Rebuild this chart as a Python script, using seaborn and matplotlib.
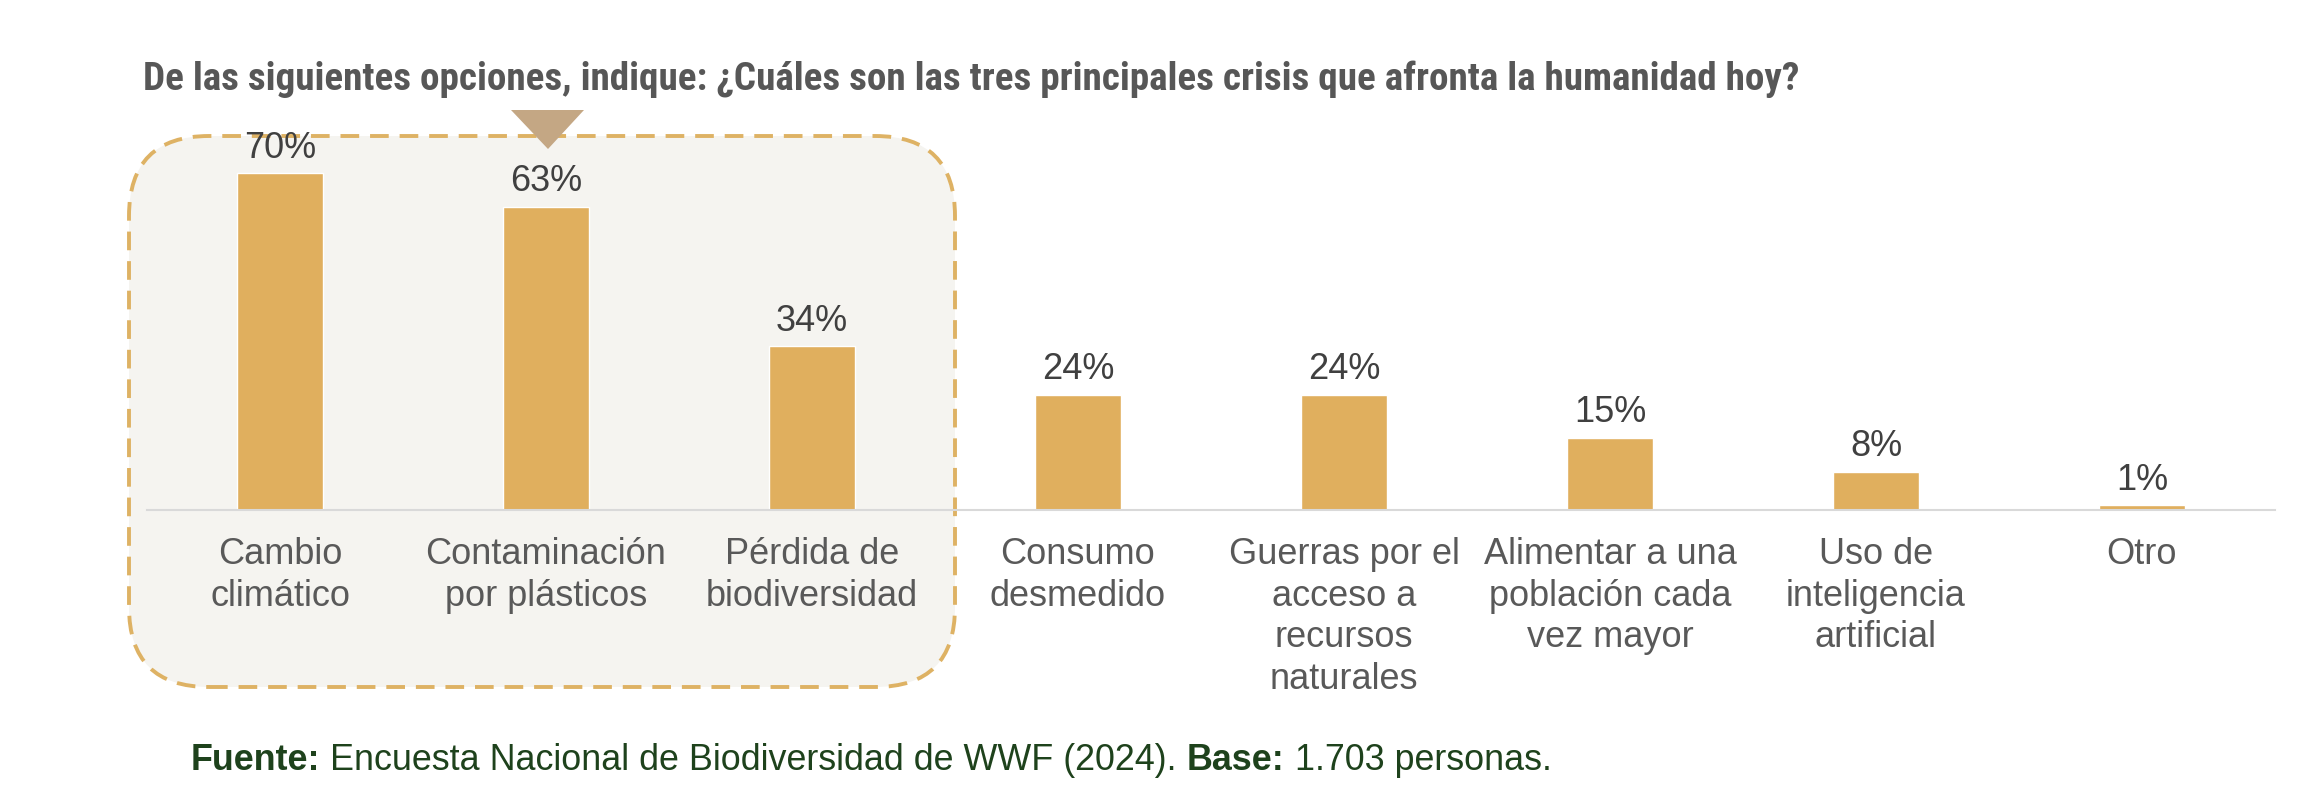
import matplotlib
matplotlib.use('Agg')
import matplotlib.pyplot as plt
from matplotlib.patches import FancyBboxPatch, Polygon
from matplotlib import font_manager
import seaborn as sns

# ------------------------------------------------------------
# DATA
# ------------------------------------------------------------
categories = [
    "Cambio\nclimático",
    "Contaminación\npor plásticos",
    "Pérdida de\nbiodiversidad",
    "Consumo\ndesmedido",
    "Guerras por el\nacceso a\nrecursos\nnaturales",
    "Alimentar a una\npoblación cada\nvez mayor",
    "Uso de\ninteligencia\nartificial",
    "Otro",
]
values = [70, 63, 34, 24, 24, 15, 8, 1]
value_labels = [f"{v}%" for v in values]

title = ("De las siguientes opciones, indique: ¿Cuáles son las tres "
         "principales crisis que afronta la humanidad hoy?")
source_parts = [
    ("Fuente:", "bold"),
    (" Encuesta Nacional de Biodiversidad de WWF (2024). ", "normal"),
    ("Base:", "bold"),
    (" 1.703 personas.", "normal"),
]

# colours
BAR = "#e0af5e"
BOX_FILL = "#f5f4f0"
BOX_EDGE = "#deb264"
TRIANGLE = "#c4a784"
TITLE_C = "#575757"
VALUE_C = "#404040"
TICK_C = "#595959"
SOURCE_C = "#1e421c"
AXIS_C = "#d9d9d9"

# ------------------------------------------------------------
# SETUP
# ------------------------------------------------------------
sns.set_theme(style='white')
plt.rcParams['font.family'] = ['Liberation Sans', 'DejaVu Sans']

names = {f.name for f in font_manager.fontManager.ttflist}
title_family = 'DejaVu Sans'
for cand in ['Roboto Condensed', 'Liberation Sans Narrow', 'Open Sans Condensed']:
    if cand in names:
        title_family = cand
        break

W, H = 2304, 804
fig = plt.figure(figsize=(W / 100, H / 100), dpi=100)
fig.patch.set_facecolor('white')

ax = fig.add_axes([147 / W, 1 - 511 / H, 2128 / W, 385 / H])
ax.set_facecolor('none')

# ------------------------------------------------------------
# BARS
# ------------------------------------------------------------
sns.barplot(x=categories, y=values, color=BAR, saturation=1, width=0.32, ax=ax)
ax.bar_label(ax.containers[0], labels=value_labels, padding=6,
             fontsize=26, color=VALUE_C)

ax.set_xlim(-0.5, len(categories) - 0.5)
ax.set_ylim(0, 80)
ax.set_yticks([])
ax.set_xlabel('')
ax.set_ylabel('')
for side in ['top', 'left', 'right']:
    ax.spines[side].set_visible(False)
ax.spines['bottom'].set_color(AXIS_C)
ax.spines['bottom'].set_linewidth(1.5)
ax.tick_params(axis='x', length=0, pad=19, labelsize=26, colors=TICK_C)
for lab in ax.get_xticklabels():
    lab.set_linespacing(1.24)

# dashed rounded frame around the top three answers
frame = FancyBboxPatch((1.29, 1.16), 8.26, 5.51,
                       boxstyle="round,pad=0,rounding_size=0.8",
                       transform=fig.dpi_scale_trans,
                       facecolor=BOX_FILL, edgecolor=BOX_EDGE,
                       linewidth=2.8, linestyle=(0, (4.8, 2.8)), zorder=-1)
fig.add_artist(frame)

marker = Polygon([(5.11, 6.93), (5.84, 6.93), (5.48, 6.54)], closed=True,
                 transform=fig.dpi_scale_trans, facecolor=TRIANGLE,
                 edgecolor='none', zorder=5)
fig.add_artist(marker)

# ------------------------------------------------------------
# TEXT
# ------------------------------------------------------------
t = fig.text(143 / W, 1 - 90 / H, title, fontsize=40, fontweight='bold',
             color=TITLE_C, family=[title_family, 'DejaVu Sans'],
             fontstretch='condensed', va='baseline')
renderer = fig.canvas.get_renderer()
w = t.get_window_extent(renderer).width
if w > 1653:
    t.set_fontsize(40 * 1653 / w)

# source line with bold keys, pieces chained one after the other
last = fig.text(191 / W, 1 - 770 / H, source_parts[0][0], fontsize=25.8,
                fontweight=source_parts[0][1], color=SOURCE_C, va='baseline')
for txt, weight in source_parts[1:]:
    last = ax.annotate(txt, xy=(1, 0), xycoords=last, fontsize=25.8,
                       fontweight=weight, color=SOURCE_C,
                       va='bottom', ha='left', annotation_clip=False)

fig.savefig('out.png', dpi=100)
